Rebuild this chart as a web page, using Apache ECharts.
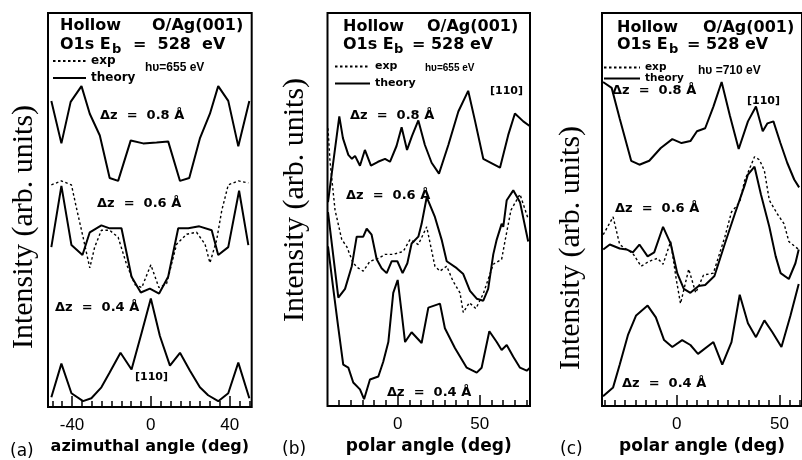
<!DOCTYPE html>
<html><head><meta charset="utf-8">
<script src="https://cdn.jsdelivr.net/npm/echarts@6/dist/echarts.min.js"></script>
<style>html,body{margin:0;padding:0;background:#fff}#c{width:802px;height:460px}</style>
</head><body><div id="c"></div>
<script>
// ---------- data: [angle (deg), intensity (arb.)] ----------
const aTheory08 = [[-50.5,310],[-45.4,267],[-40.7,309],[-35.2,325],[-31.0,297],[-25.9,275],[-20.9,232],[-16.6,229],[-10.2,270],[-3.9,267],[2.9,268],[8.8,269],[14.8,229],[19.5,232],[24.9,272],[30.0,297],[34.2,325],[39.3,310],[44.4,264],[50.0,310]];
const aTheory06 = [[-50.5,162],[-45.4,224],[-40.3,164],[-34.7,154],[-31.0,177],[-25.1,184],[-20.9,181],[-14.9,181],[-9.8,132],[-5.1,116],[-0.5,120],[4.2,115],[8.8,132],[13.9,181],[19.0,181],[24.6,183],[30.9,179],[34.2,154],[39.3,162],[44.8,219],[49.5,164]];
const aExp06 = [[-50.5,225],[-45.4,229],[-40.3,225],[-37.8,202],[-34.4,172],[-31.0,141],[-28.5,162],[-25.1,179],[-20.9,179],[-16.6,172],[-12.4,145],[-8.1,124],[-4.6,121],[0,144],[4.1,121],[8.0,125],[13.1,165],[18.2,175],[23.2,177],[27.5,165],[30.0,146],[33.4,169],[36.0,199],[39.3,225],[44.4,229],[49.5,227]];
const aTheory04 = [[-50.5,10],[-45.4,44],[-40.3,14],[-34.4,6],[-30.2,9],[-25.1,20],[-20.9,35],[-15.4,55],[-9.8,38],[-4.7,75],[0,110],[4.6,72],[9.7,42],[14.8,55],[19.8,37],[24.9,20],[29.1,12],[34.2,6],[39.3,14],[44.4,45],[50.0,9]];

const bTheory08 = [[-42.5,207],[-35.6,294],[-33.4,272],[-30.1,255],[-27.9,251],[-26.0,254],[-23.0,244],[-20.0,260],[-16.3,244],[-12.0,248],[-7.7,251],[-4.7,248],[-0.7,264],[2.4,283],[5.7,260],[8.7,274],[12.6,290],[16.6,265],[20.7,247],[25.2,236],[30.9,265],[37.0,299],[43.0,320],[47.1,290],[52.2,251],[62.4,242],[67.4,275],[71.5,297],[76.6,289],[80.7,284]];
const bTheory06 = [[-42.5,197],[-36.2,110],[-32.1,119],[-28.0,142],[-25.0,172],[-21.0,172],[-18.9,180],[-15.9,174],[-12.8,149],[-9.8,140],[-6.7,135],[-3.7,147],[-0.2,147],[3.0,135],[5.9,145],[8.5,165],[12.6,172],[14.6,185],[17.7,212],[22.7,192],[26.8,169],[29.9,147],[36.0,140],[40.0,134],[44.1,117],[48.2,109],[52.2,107],[55.2,119],[58.3,154],[60.4,169],[63.4,185],[64.4,182],[66.5,209],[70.5,219],[74.6,207],[79.6,167]];
const bExp06 = [[-42.5,282],[-41.3,249],[-38.2,199],[-34.1,169],[-31.1,162],[-27.1,145],[-24.0,140],[-21.0,137],[-16.9,147],[-11.8,150],[-7.7,154],[-2.7,154],[3.4,157],[7.5,169],[12.6,164],[17.7,182],[22.7,142],[25.8,137],[29.9,142],[33.7,127],[38.0,115],[40.0,95],[43.7,105],[47.7,99],[52.2,114],[58.3,144],[63.4,149],[65.4,167],[69.1,199],[74.6,215],[79.6,190]];
const bTheory04 = [[-42.5,162],[-39.5,122],[-36.4,82],[-33.2,42],[-30.1,39],[-27.1,24],[-23.0,17],[-20.5,7],[-16.9,27],[-11.8,30],[-8.8,45],[-5.7,65],[-2.7,115],[0,128],[2.4,95],[4.5,65],[8.5,75],[14.6,64],[18.7,100],[25.8,104],[28.8,79],[34.9,59],[42.1,39],[48.2,34],[51.2,39],[55.9,76],[60.4,65],[63.4,57],[66.5,62],[70.5,50],[74.6,39],[78.7,36],[80.7,39]];

const cTheory08 = [[-35.8,329],[-31.6,323],[-27.7,292],[-22.1,249],[-18.1,245],[-13.3,249],[-7.7,262],[-2.1,271],[2.4,267],[6.7,269],[9.9,279],[13.9,282],[17.9,304],[21.9,329],[25.9,295],[30.2,261],[34.7,289],[38.6,304],[41.9,279],[44.2,287],[47.1,289],[50.5,267],[53.8,247],[57.2,230],[59.6,222]];
const cTheory06 = [[-35.7,159],[-32.5,164],[-27.7,160],[-24.4,159],[-21.3,156],[-18.1,164],[-14.1,152],[-10.9,156],[-6.6,182],[-2.9,165],[0.3,135],[3.5,119],[6.7,115],[10.7,122],[13.9,123],[18.4,132],[23.5,165],[28.3,195],[33.1,224],[34.7,235],[37.9,243],[41.0,215],[45.1,182],[48.2,152],[50.6,135],[54.6,129],[57.8,145],[59.4,159]];
const cExp06 = [[-35.7,174],[-30.9,192],[-27.7,164],[-24.4,159],[-21.3,155],[-17.3,142],[-13.3,147],[-9.3,150],[-6.6,144],[-2.9,167],[-0.2,129],[1.9,104],[5.9,139],[9.3,115],[13.1,133],[17.9,135],[23.5,172],[26.7,197],[30.7,207],[33.1,229],[37.9,253],[40.3,250],[42.7,239],[45.1,209],[49.0,195],[52.3,185],[54.6,167],[59.4,159]];
const cTheory04 = [[-35.8,10],[-30.9,19],[-27.7,42],[-23.7,72],[-19.7,92],[-14.1,102],[-10.1,90],[-6.1,67],[-2.1,60],[2.7,67],[6.7,62],[10.4,53],[17.9,65],[22.2,42],[26.7,65],[30.7,113],[34.7,84],[38.6,70],[42.7,87],[46.6,75],[51.0,60],[55.4,92],[59.4,124]];

// ---------- axis ticks / labels ----------
const aMajor = [-40, 0, 40];
const aMinor = [-50,-45,-35,-30,-25,-20,-15,-10,-5,5,10,15,20,25,30,35,45,50];
const bMajor = [0, 50];
const bMinor = [-35.7,-28.6,-21.4,-14.3,-7.1,7.1,14.3,21.4,28.6,35.7,42.9,57.1,64.3,71.4,78.6];
const cMajor = [0, 50];
const cMinor = [-35,-30,-25,-20,-15,-10,-5,5,10,15,20,25,30,35,40,45,55,60];
const xNames = ['azimuthal angle (deg)', 'polar angle (deg)', 'polar angle (deg)'];
const yName = 'Intensity (arb. units)';

// ---------- layout ----------
const grids = [
  {left:48, top:13, width:203.7, height:399},
  {left:327.5, top:13, width:202.5, height:399},
  {left:602, top:13, width:203, height:399}
];
const ranges = [[-52.2, 51.2], [-42.8, 80.7], [-36.3, 61.0]];
const majors = [aMajor, bMajor, cMajor];
const minors = [aMinor, bMinor, cMinor];
const nameSizes = [16, 17, 17];

const xAxis = [], yAxis = [];
for (let i = 0; i < 3; i++) {
  xAxis.push({
    type:'value', gridIndex:i, min:ranges[i][0], max:ranges[i][1], position:'bottom',
    axisLine:{show:false, onZero:false}, splitLine:{show:false},
    axisTick:{show:true, inside:true, length:11, customValues:majors[i], lineStyle:{color:'#000', width:1.5}},
    axisLabel:{show:true, customValues:majors[i], margin:10, color:'#000', fontSize:17, fontFamily:'Liberation Sans'},
    name:xNames[i], nameLocation:'middle', nameGap:29,
    nameTextStyle:{fontFamily:'DejaVu Sans', fontWeight:'bold', fontSize:nameSizes[i], color:'#000'}
  });
  xAxis.push({
    type:'value', gridIndex:i, min:ranges[i][0], max:ranges[i][1], position:'bottom',
    axisLine:{show:false, onZero:false}, splitLine:{show:false},
    axisTick:{show:true, inside:true, length:6, customValues:minors[i], lineStyle:{color:'#000', width:1.5}},
    axisLabel:{show:false}
  });
  yAxis.push({type:'value', gridIndex:i, min:0, max:399, show:false});
}

function curve(name, data, i, dashed) {
  return {
    type:'line', name:name, data:data, xAxisIndex:2*i, yAxisIndex:i,
    symbol:'none', showSymbol:false, silent:true, animation:false, z: dashed ? 2 : 3,
    lineStyle:{color:'#000', width: dashed ? 1.4 : 2, type: dashed ? [2.5, 2.5] : 'solid'},
    itemStyle:{color:'#000'}
  };
}
const series = [
  curve('theory', aTheory08, 0, false), curve('theory', aTheory06, 0, false), curve('exp', aExp06, 0, true), curve('theory', aTheory04, 0, false),
  curve('theory', bTheory08, 1, false), curve('theory', bTheory06, 1, false), curve('exp', bExp06, 1, true), curve('theory', bTheory04, 1, false),
  curve('theory', cTheory08, 2, false), curve('theory', cTheory06, 2, false), curve('exp', cExp06, 2, true), curve('theory', cTheory04, 2, false)
];

function leg(left, top, gap, size, w) {
  return {data:['exp','theory'], orient:'vertical', left:left, top:top, itemWidth:w, itemHeight:10, itemGap:gap,
    selectedMode:false, padding:0, itemStyle:{opacity:0, borderWidth:0},
    textStyle:{fontFamily:'DejaVu Sans', fontWeight:'bold', fontSize:size, color:'#000'}};
}
const legend = [leg(52, 55, 5, 12, 33), leg(334, 61, 6, 11, 35), leg(603, 62, 0, 10.5, 36)];

// ---------- annotations ----------
const B16 = 'bold 16px "DejaVu Sans"';
function t(text, x, y, font, align, rot) {
  const el = {type:'text', x:x, y:y, silent:true, z:50,
    style:{text:text, font:font, fill:'#000', textAlign:align || 'left', textVerticalAlign:'middle'}};
  if (rot) el.rotation = rot;
  return el;
}
const dz = 'bold 13px "DejaVu Sans"';
const graphic = [
  // panel titles
  t('Hollow', 60, 26, B16), t('O/Ag(001)', 152, 26, B16),
  t('O1s E', 60, 45, B16), t('b', 112, 50, 'bold 13px "DejaVu Sans"'), t('=  528  eV', 133, 45, B16),
  t('Hollow', 343, 26.5, B16), t('O/Ag(001)', 427, 26.5, B16),
  t('O1s E', 343, 44.5, B16), t('b', 394, 49.5, 'bold 13px "DejaVu Sans"'), t('= 528 eV', 412, 44.5, B16),
  t('Hollow', 617, 27.5, B16), t('O/Ag(001)', 703, 27.5, B16),
  t('O1s E', 617, 45, B16), t('b', 669, 50, 'bold 13px "DejaVu Sans"'), t('= 528 eV', 687, 45, B16),
  // photon energies
  t('h\u03c5=655 eV', 145, 68, 'bold 12px "Liberation Sans"'),
  t('h\u03c5=655 eV', 425, 68, 'bold 10px "Liberation Sans"'),
  t('h\u03c5 =710 eV', 698, 71, 'bold 12px "Liberation Sans"'),
  // Δz labels
  t('\u0394z  =  0.8 \u00c5', 100, 116, dz), t('\u0394z  =  0.6 \u00c5', 97, 204, dz), t('\u0394z  =  0.4 \u00c5', 55, 308, dz),
  t('\u0394z  =  0.8 \u00c5', 350, 116, dz), t('\u0394z  =  0.6 \u00c5', 346, 196, dz), t('\u0394z  =  0.4 \u00c5', 387, 393, dz),
  t('\u0394z  =  0.8 \u00c5', 612, 91, dz), t('\u0394z  =  0.6 \u00c5', 615, 209, dz), t('\u0394z  =  0.4 \u00c5', 622, 384, dz),
  // [110]
  t('[110]', 135, 377, 'bold 11px "DejaVu Sans"'), t('[110]', 490, 91, 'bold 11px "DejaVu Sans"'), t('[110]', 747, 101, 'bold 11px "DejaVu Sans"'),
  // panel letters
  t('(a)', 10, 452, '17px "DejaVu Sans"'), t('(b)', 282, 450, '17px "DejaVu Sans"'), t('(c)', 560, 450, '17px "DejaVu Sans"'),
  // y axis titles
  t(yName, 24, 227, '30px "Liberation Serif"', 'center', Math.PI/2),
  t(yName, 295, 200, '30px "Liberation Serif"', 'center', Math.PI/2),
  t(yName, 571, 248, '30px "Liberation Serif"', 'center', Math.PI/2)
];

const chart = echarts.init(document.getElementById('c'), null, {renderer:'canvas'});
chart.setOption({
  animation:false,
  backgroundColor:'#fff',
  grid: grids.map(g => Object.assign({show:true, borderColor:'#000', borderWidth:2, backgroundColor:'transparent', containLabel:false}, g)),
  xAxis: xAxis, yAxis: yAxis, series: series, legend: legend, graphic: graphic
});
</script></body></html>
